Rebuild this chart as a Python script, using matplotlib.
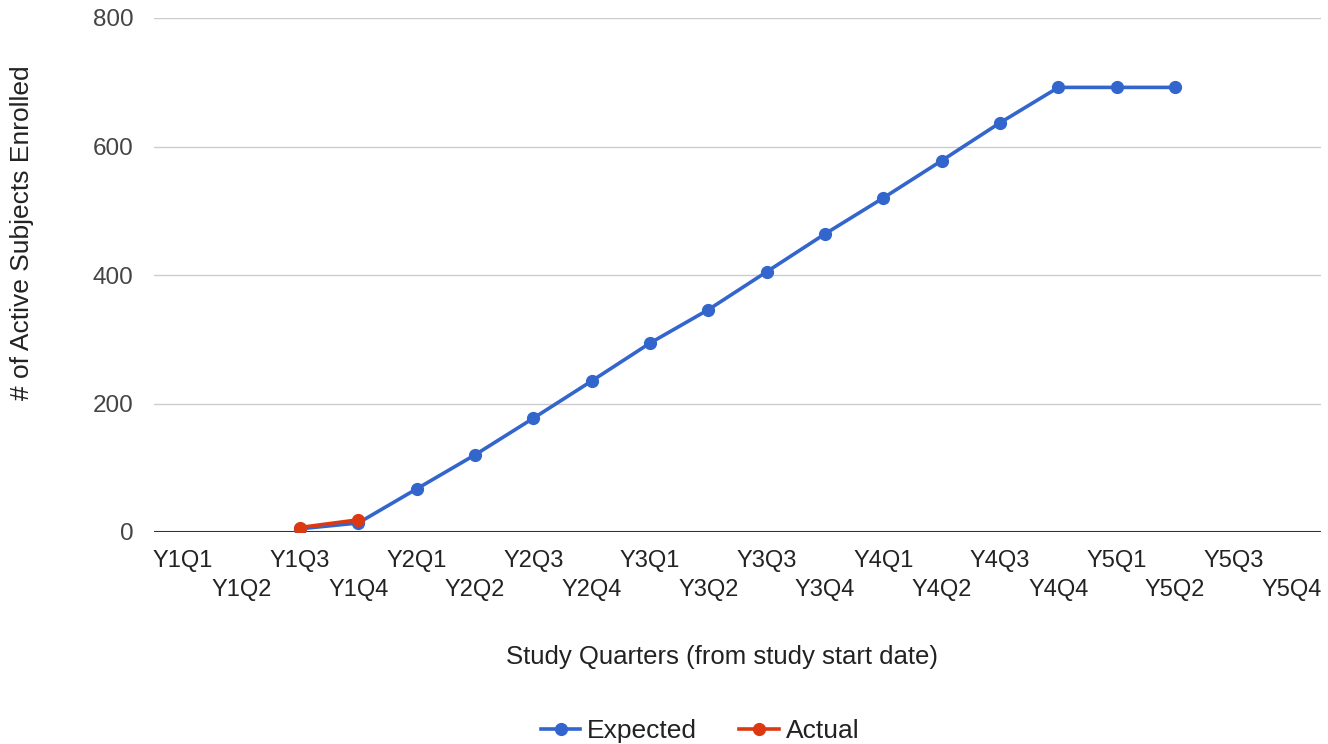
import numpy as np
import matplotlib.pyplot as plt

plt.rcParams['font.family'] = ['Liberation Sans', 'DejaVu Sans']

quarters = ["Y%dQ%d" % (y, q) for y in range(1, 6) for q in range(1, 5)]
expected = [None, None, 5, 14, 67, 120, 177, 235, 294, 346,
            405, 464, 520, 578, 637, 692, 692, 692, None, None]
actual = [None, None, 7, 19, None, None, None, None, None, None,
          None, None, None, None, None, None, None, None, None, None]

BLUE = "#3366cc"
RED = "#dc3912"


def main():
    fig = plt.figure(figsize=(13.28, 7.44), dpi=100)
    ax = fig.add_axes([154/1328, 1 - 532/744, (1321 - 154)/1328, (532 - 18)/744])

    x = np.arange(len(quarters))
    exp = np.array([np.nan if v is None else v for v in expected], dtype=float)
    act = np.array([np.nan if v is None else v for v in actual], dtype=float)

    ax.plot(x, exp, color=BLUE, lw=2.6, marker='o', ms=8.5, label="Expected", zorder=3)
    ax.plot(x, act, color=RED, lw=2.6, marker='o', ms=8.5, label="Actual", zorder=4)

    ax.set_xlim(-0.5, len(quarters) - 0.5)
    ax.set_ylim(0, 800)
    ax.set_yticks([0, 200, 400, 600, 800])
    ax.grid(axis='y', color='#cccccc', lw=1)
    ax.axhline(0, color='#333333', lw=1.5, zorder=2)
    ax.set_axisbelow(True)
    for s in ax.spines.values():
        s.set_visible(False)

    # staggered category labels: even on the first row, odd on the second
    ax.set_xticks(x[::2])
    ax.set_xticklabels(quarters[::2])
    ax.set_xticks(x[1::2], minor=True)
    ax.set_xticklabels(quarters[1::2], minor=True)
    ax.tick_params(axis='x', which='major', length=0, pad=13, labelsize=17, labelcolor='#222222')
    ax.tick_params(axis='x', which='minor', length=0, pad=34, labelsize=17, labelcolor='#222222')
    ax.tick_params(axis='y', length=0, pad=15, labelsize=17.5, labelcolor='#444444')

    fig.text(722/1328, 1 - 657/744, "Study Quarters (from study start date)",
             ha='center', va='center', fontsize=18.5, color='#222222')
    fig.text(22/1328, 1 - 233/744, "# of Active Subjects Enrolled", rotation=90,
             ha='center', va='center', fontsize=19, color='#222222')

    leg = fig.legend(loc='center', bbox_to_anchor=(700/1328, 1 - 731/744), ncol=2,
                     frameon=False, fontsize=19, handlelength=1.5, handletextpad=0.25,
                     columnspacing=1.6)
    for t in leg.get_texts():
        t.set_color('#222222')

    fig.savefig("out.png", dpi=100)


if __name__ == "__main__":
    main()
